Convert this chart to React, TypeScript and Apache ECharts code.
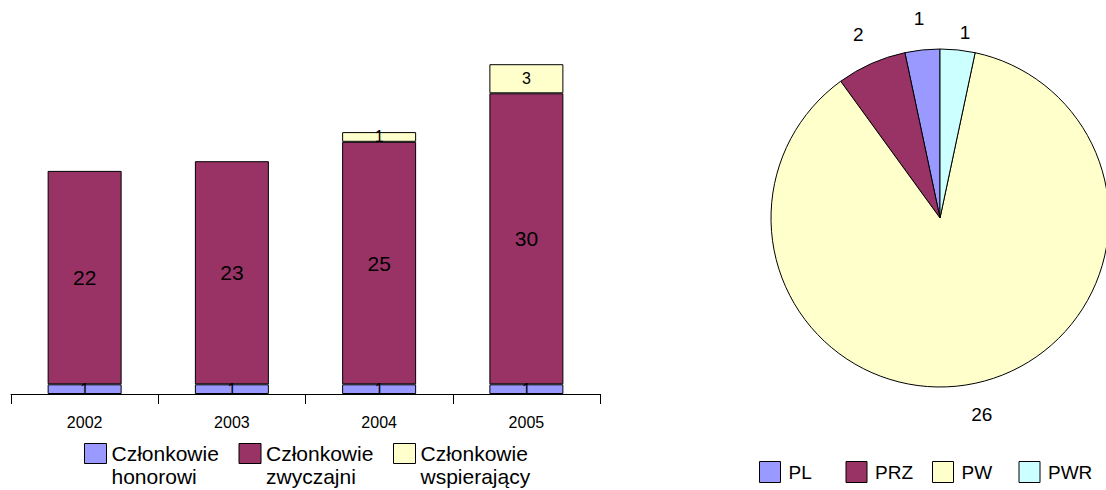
import React, { useEffect, useRef } from "react";
import * as echarts from "echarts";

const years = ["2002", "2003", "2004", "2005"];
const honorowi = [1, 1, 1, 1];
const zwyczajni = [22, 23, 25, 30];
const wspierajacy = [null, null, 1, 3];
const barNames = ["Członkowie honorowi", "Członkowie zwyczajni", "Członkowie wspierający"];

const pieNames = ["PL", "PRZ", "PW", "PWR"];
const pieValues = [1, 2, 26, 1];

const C_BLUE = "#9999FF";
const C_PLUM = "#993366";
const C_YELLOW = "#FFFFCC";
const C_CYAN = "#CCFFFF";
const FONT = "'Liberation Sans', Arial, sans-serif";

export default function App() {
  const ref = useRef<HTMLDivElement>(null);
  useEffect(() => {
    if (!ref.current) return;
    const chart = echarts.init(ref.current, null, { renderer: "svg" });
    const border = { borderColor: "#000", borderWidth: 1 };
    const pieData = pieNames.map((n, i) => ({
      name: n,
      value: pieValues[i],
      itemStyle: { color: [C_BLUE, C_PLUM, C_YELLOW, C_CYAN][i] },
    }));
    chart.setOption({
      animation: false,
      textStyle: { fontFamily: FONT },
      grid: { left: 11, right: 506, top: 6, bottom: 96 },
      xAxis: {
        type: "category",
        data: years,
        axisLine: { lineStyle: { color: "#000", width: 1 } },
        axisTick: { show: true, interval: 0, length: 10, lineStyle: { color: "#000", width: 1 } },
        axisLabel: { color: "#000", fontSize: 16, margin: 20, fontFamily: FONT },
      },
      yAxis: { type: "value", min: 0, max: 40, show: false },
      legend: [
        {
          left: 84,
          top: 419,
          padding: 0,
          itemGap: 0,
          itemWidth: 22,
          itemHeight: 20,
          icon: "rect",
          data: barNames,
          formatter: (n: string) => "\n" + n.replace(" ", "\n"),
          textStyle: {
            fontSize: 21,
            lineHeight: 23,
            color: "#000",
            fontFamily: FONT,
            width: 127,
          },
          itemStyle: { borderColor: "#000", borderWidth: 1 },
          selectedMode: false,
        },
        {
          left: 759,
          top: 461,
          padding: 0,
          itemGap: 0,
          itemWidth: 21,
          itemHeight: 21,
          icon: "rect",
          data: pieNames,
          textStyle: {
            fontSize: 19,
            lineHeight: 21,
            color: "#000",
            fontFamily: FONT,
            padding: [0, 0, 0, 3],
            width: 57,
          },
          itemStyle: { borderColor: "#000", borderWidth: 1 },
          selectedMode: false,
        },
      ],
      series: [
        {
          name: barNames[0],
          type: "bar",
          stack: "s",
          barWidth: 74,
          data: honorowi,
          itemStyle: { color: C_BLUE, ...border },
          label: { show: true, position: "inside", color: "#000", fontSize: 16, fontFamily: FONT },
        },
        {
          name: barNames[1],
          type: "bar",
          stack: "s",
          barWidth: 74,
          data: zwyczajni,
          itemStyle: { color: C_PLUM, ...border },
          label: { show: true, position: "inside", color: "#000", fontSize: 21, fontFamily: FONT },
        },
        {
          name: barNames[2],
          type: "bar",
          stack: "s",
          barWidth: 74,
          data: wspierajacy,
          itemStyle: { color: C_YELLOW, ...border },
          label: { show: true, position: "inside", color: "#000", fontSize: 16, fontFamily: FONT },
        },
        {
          type: "pie",
          center: [940, 218],
          radius: [0, 169],
          startAngle: 90,
          clockwise: false,
          avoidLabelOverlap: false,
          data: pieData,
          itemStyle: { borderColor: "#000", borderWidth: 1 },
          label: { show: false },
          labelLine: { show: false },
          emphasis: { disabled: true },
        },
        {
          type: "pie",
          center: [940, 218],
          radius: [186, 210],
          startAngle: 90,
          clockwise: false,
          avoidLabelOverlap: false,
          silent: true,
          data: pieNames.map((n, i) => ({ name: n, value: pieValues[i] })),
          itemStyle: { color: "transparent", borderWidth: 0 },
          label: {
            show: true,
            position: "inside",
            formatter: "{c}",
            color: "#000",
            fontSize: 19,
            fontFamily: FONT,
          },
          labelLayout: (p: any) => (p.dataIndex === 3 ? { dx: 4, dy: 14 } : {}),
          labelLine: { show: false },
          emphasis: { disabled: true },
        },
      ],
    });
    return () => chart.dispose();
  }, []);
  return (
    <div
      ref={ref}
      style={{ position: "absolute", left: 0, top: 0, width: 1106, height: 490 }}
    />
  );
}
